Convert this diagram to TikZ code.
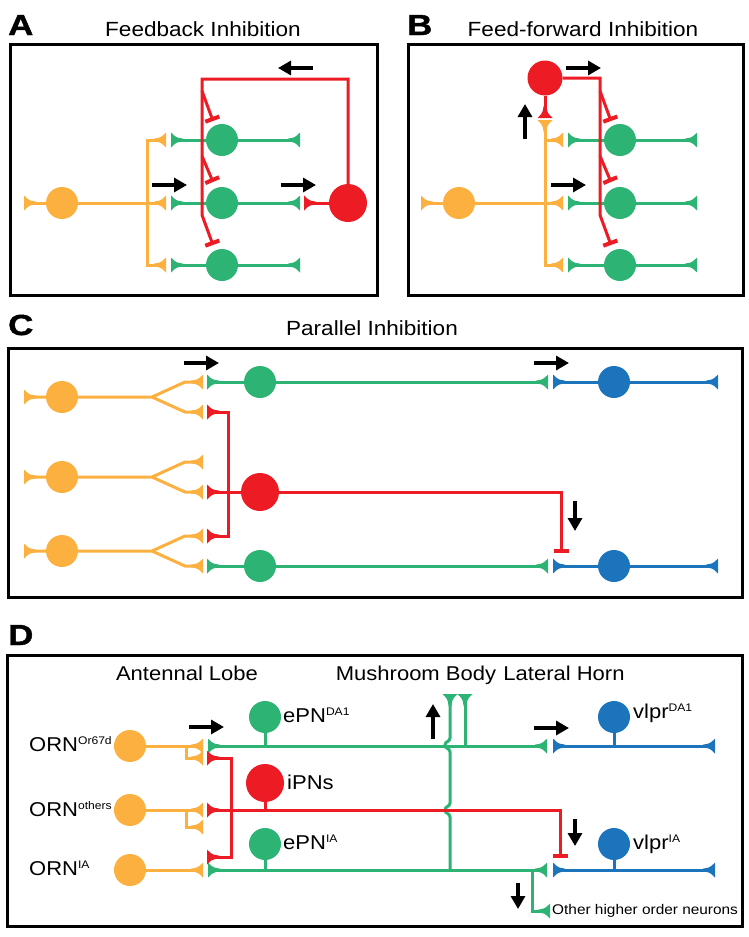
\documentclass[tikz,border=0pt]{standalone}
\usepackage{fontspec}
\setmainfont{Liberation Sans}[FakeStretch=1.1]
\newfontfamily\letterfont{Liberation Sans}[FakeStretch=1.2,FakeBold=1.5]
\usetikzlibrary{arrows.meta,calc}
\definecolor{corange}{HTML}{FBB040}
\definecolor{cgreen}{HTML}{2DB474}
\definecolor{cred}{HTML}{ED1C24}
\definecolor{cblue}{HTML}{1C75BC}
\newcommand{\syn}[4]{\fill[#1,shift={(#2,#3)},rotate=#4] (0,7.5) .. controls (-5,2.5) .. (-12,1.4) -- (-12,-1.4) .. controls (-5,-2.5) .. (0,-7.5) -- cycle;}
\newcommand{\supx}[1]{\raisebox{7pt}{\fontsize{11}{11}\selectfont #1}}
\tikzset{
  neur/.style={line width=3pt},
  soma/.style={circle, fill=#1, inner sep=0pt, minimum size=32pt},
  bigsoma/.style={circle, fill=#1, inner sep=0pt, minimum size=38pt},
  inh/.style={cred, line width=3pt, -{Bar[width=15pt,line width=4pt]}},
  flow/.style={black, line width=3.2pt, -{Triangle[length=13pt,width=14pt]}},
  frame/.style={draw=black, line width=3pt},
  letter/.style={font=\letterfont\fontsize{29}{29}\selectfont\bfseries, inner sep=0pt},
  ttl/.style={font=\fontsize{20.5}{24}\selectfont, inner sep=0pt},
  lbl/.style={font=\fontsize{20}{24}\selectfont, inner sep=0pt},
  small/.style={font=\fontsize{14}{16}\selectfont, inner sep=0pt},
}
\begin{document}
\begin{tikzpicture}[x=1pt,y=-1pt]
\useasboundingbox (0,0) rectangle (749,937);
% ================= Panel A =================
\draw[frame] (10,44) rectangle (377,295);
\node[letter, anchor=base west] (LA) at (8,35) {A};
\node[ttl, anchor=base] (TA) at (203,36) {Feedback Inhibition};
\node[soma=corange] (oA) at (62,203) {};
\draw[neur,corange] (24,203) -- (oA) -- (166,203);
\draw[neur,corange] (166,140) -- (147,140) -- (147,265) -- (166,265);
\syn{corange}{24}{203}{180}
\foreach \y in {140,203,265}{
  \syn{corange}{166}{\y}{0}
  \node[soma=cgreen] (gA\y) at (222,\y) {};
  \draw[neur,cgreen] (171,\y) -- (gA\y) -- (300,\y);
  \syn{cgreen}{171}{\y}{180}
  \syn{cgreen}{300}{\y}{0}
}
\node[bigsoma=cred] (rA) at (348,203) {};
\draw[neur,cred] (305,203) -- (rA);
\syn{cred}{304}{203}{180}
\draw[inh] (rA) -- (348,79) -- (202,79) -- (202,215) -- (213,245);
\draw[inh] (202,91) -- (213,121);
\draw[inh] (202,156) -- (213,182);
\draw[flow] (152,185) -- (187,185);
\draw[flow] (281,185) -- (316,185);
\draw[flow] (313,68) -- (278,68);
% ================= Panel B =================
\draw[frame] (408,44) rectangle (743,295);
\node[letter, anchor=base west] (LB) at (407,35) {B};
\node[ttl, anchor=base] (TB) at (583,36) {Feed-forward Inhibition};
\node[soma=corange] (oB) at (459,203) {};
\draw[neur,corange] (421,203) -- (oB) -- (563,203);
\draw[neur,corange] (563,140) -- (545,140);
\draw[neur,corange] (545,123) -- (545,265) -- (563,265);
\syn{corange}{421}{203}{180}
\syn{corange}{545}{120}{90}
\foreach \y in {140,203,265}{
  \syn{corange}{563}{\y}{0}
  \node[soma=cgreen] (gB\y) at (620,\y) {};
  \draw[neur,cgreen] (568,\y) -- (gB\y) -- (697,\y);
  \syn{cgreen}{568}{\y}{180}
  \syn{cgreen}{697}{\y}{0}
}
\node[soma=cred, minimum size=35pt] (rB) at (545,78) {};
\draw[neur,cred] (rB) -- (545,116);
\syn{cred}{545}{118}{-90}
\draw[inh] (rB) -- (600,78) -- (600,215) -- (611,245);
\draw[inh] (600,91) -- (611,121);
\draw[inh] (600,156) -- (611,182);
\draw[flow] (566,68) -- (601,68);
\draw[flow] (525,139) -- (525,104);
\draw[flow] (551,185) -- (586,185);
% ================= Panel C =================
\draw[frame] (8,348) rectangle (742,597);
\node[letter, anchor=base west] (LC) at (8,335) {C};
\node[ttl, anchor=base] (TC) at (372,335) {Parallel Inhibition};
\foreach \y/\n in {397/1,477/2,551/3}{
  \node[soma=corange] (oC\n) at (62,\y) {};
  \draw[neur,corange] (24,\y) -- (oC\n) -- (152,\y) -- (185,\y-15) -- (203,\y-15);
  \draw[neur,corange] (152,\y) -- (185,\y+15) -- (203,\y+15);
  \syn{corange}{24}{\y}{180}
  \syn{corange}{203}{\y-15}{0}
  \syn{corange}{203}{\y+15}{0}
}
\foreach \y/\n in {382/1,566/3}{
  \node[soma=cgreen] (gC\n) at (260,\y) {};
  \draw[neur,cgreen] (207,\y) -- (gC\n) -- (548,\y);
  \syn{cgreen}{207}{\y}{180}
  \syn{cgreen}{548}{\y}{0}
  \node[soma=cblue] (bC\n) at (614,\y) {};
  \draw[neur,cblue] (553,\y) -- (bC\n) -- (718,\y);
  \syn{cblue}{553}{\y}{180}
  \syn{cblue}{718}{\y}{0}
}
\node[bigsoma=cred] (rC) at (260,492) {};
\draw[neur,cred] (209,412) -- (228,412) -- (228,536) -- (209,536);
\draw[neur,cred] (209,492) -- (rC);
\draw[inh] (rC) -- (561,492) -- (561,553);
\syn{cred}{207}{412}{180}
\syn{cred}{207}{492}{180}
\syn{cred}{207}{536}{180}
\draw[flow] (184,363) -- (219,363);
\draw[flow] (534,363) -- (569,363);
\draw[flow] (575,501) -- (575,531);
% ================= Panel D =================
\draw[frame] (7,655) rectangle (742,926);
\node[letter, anchor=base west] (LD) at (8,645) {D};
\node[lbl, anchor=base] (AL) at (187,680) {Antennal Lobe};
\node[lbl, anchor=base] (MB) at (416,680) {Mushroom Body};
\node[lbl, anchor=base] (LH) at (564,680) {Lateral Horn};
% ORNs
\node[soma=corange] (oD1) at (130,746) {};
\node[soma=corange] (oD2) at (130,810) {};
\node[soma=corange] (oD3) at (130,870) {};
\node[lbl, anchor=base west] (n1) at (29,751) {ORN\supx{Or67d}};
\node[lbl, anchor=base west] (n2) at (29,816) {ORN\supx{others}};
\node[lbl, anchor=base west] (n3) at (29,875) {ORN\supx{IA}};
\draw[neur,corange] (oD1) -- (203,746);
\draw[neur,corange] (186,746) -- (186,758) -- (203,758);
\draw[neur,corange] (oD2) -- (203,810);
\draw[neur,corange] (186,810) -- (186,827) -- (203,827);
\draw[neur,corange] (oD3) -- (203,870);
\syn{corange}{203}{746}{0}
\syn{corange}{203}{758}{0}
\syn{corange}{203}{810}{0}
\syn{corange}{203}{827}{0}
\syn{corange}{203}{870}{0}
% mushroom body branches
\draw[neur,cgreen] (450,870) -- (450,817) .. controls (450,813) and (445,814) .. (445,810)
   .. controls (445,806) and (450,807) .. (450,803) -- (450,752)
   .. controls (450,748) and (445,749) .. (445,745) .. controls (445,741) and (450,742) .. (450,738)
   -- (450,697);
\draw[neur,cgreen] (465,746) -- (465,697);
\syn{cgreen}{450}{694}{90}
\syn{cgreen}{465}{694}{90}
% PNs
\node[soma=cgreen] (eD1) at (265,717) {};
\node[soma=cgreen] (eD3) at (265,844) {};
\node[bigsoma=cred] (iD) at (265,783) {};
\node[lbl, anchor=base west] (e1) at (283,722) {ePN\supx{DA1}};
\node[lbl, anchor=base west] (i1) at (287,789) {iPNs};
\node[lbl, anchor=base west] (e3) at (283,849) {ePN\supx{IA}};
\draw[neur,cgreen] (208,746) -- (547,746);
\draw[neur,cgreen] (eD1) -- (265,746);
\draw[neur,cgreen] (208,870) -- (547,870);
\draw[neur,cgreen] (eD3) -- (265,870);
\draw[neur,cgreen] (532,870) -- (532,911) -- (550,911);
\syn{cgreen}{208}{746}{180}
\syn{cgreen}{547}{746}{0}
\syn{cgreen}{208}{870}{180}
\syn{cgreen}{547}{870}{0}
\syn{cgreen}{550}{911}{0}
\node[small, anchor=west] (oth) at (552,911) {Other higher order neurons};
% iPN
\draw[neur,cred] (209,758) -- (231,758) -- (231,857) -- (209,857);
\draw[neur,cred] (iD) -- (265,810);
\draw[inh] (209,810) -- (560,810) -- (560,858);
\syn{cred}{207}{758}{180}
\syn{cred}{207}{810}{180}
\syn{cred}{207}{857}{180}
% vlpr
\node[soma=cblue] (vD1) at (614,717) {};
\node[soma=cblue] (vD3) at (614,844) {};
\node[lbl, anchor=base west] (v1) at (633,718) {vlpr\supx{DA1}};
\node[lbl, anchor=base west] (v3) at (633,849) {vlpr\supx{IA}};
\draw[neur,cblue] (553,746) -- (715,746);
\draw[neur,cblue] (vD1) -- (614,746);
\draw[neur,cblue] (553,870) -- (715,870);
\draw[neur,cblue] (vD3) -- (614,870);
\syn{cblue}{553}{746}{180}
\syn{cblue}{715}{746}{0}
\syn{cblue}{553}{870}{180}
\syn{cblue}{715}{870}{0}
% arrows
\draw[flow] (189,727) -- (224,727);
\draw[flow] (433,739) -- (433,704);
\draw[flow] (534,728) -- (569,728);
\draw[flow] (575,819) -- (575,846);
\draw[flow] (518,883) -- (518,909);
\end{tikzpicture}
\end{document}
